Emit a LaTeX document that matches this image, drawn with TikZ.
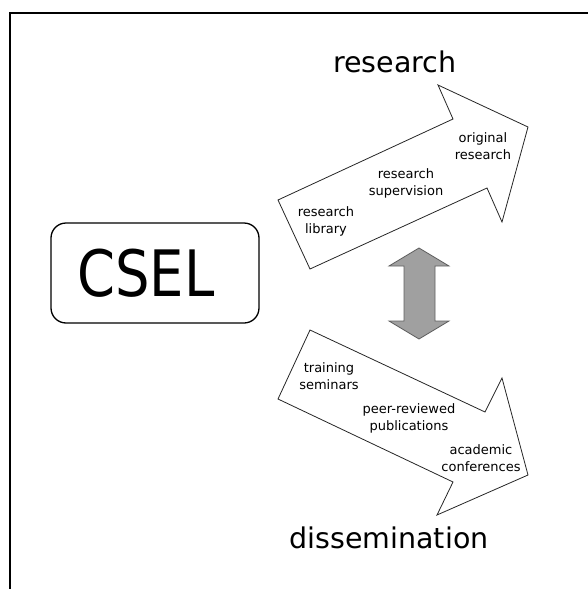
\documentclass[tikz,border=0pt]{standalone}
\usepackage{fontspec}
\setmainfont{DejaVu Sans}
\usepackage{graphicx}
\usepackage{tikz}
\usetikzlibrary{shapes}
\definecolor{arrowgray}{RGB}{160,160,160}
\definecolor{edgegray}{RGB}{95,95,95}

\begin{document}
\begin{tikzpicture}[x=1pt,y=-1pt]
    \tikzstyle{every node}+=[inner sep=0pt]
    \tikzstyle{title}=[font=\fontsize{28.5}{34}\selectfont, anchor=base]
    \tikzstyle{item}=[font=\fontsize{13}{17}\selectfont, align=center]
    \tikzstyle{flow}=[draw=black!85, line width=0.8pt, fill=white, line join=miter]
    \useasboundingbox (0,0) rectangle (588,589);
    \draw [black, line width=2.5pt] (588,13) -- (10,13) -- (10,589);
    \node [draw=black, line width=1.3pt, rounded corners=15pt, minimum width=208pt, minimum height=100pt,
        font=\fontsize{64}{70}\selectfont] (csel) at (155,273) {\hspace*{-18pt}\scalebox{0.85}[1]{CSEL}};
    \draw [flow] (278,200) -- (453,119) -- (438,85) -- (528,127) -- (502,222) -- (487,188) -- (310,269) -- cycle;
    \draw [flow] (310,330) -- (485,412) -- (502,378) -- (528,475) -- (437,515) -- (453,482) -- (278,399) -- cycle;
    \draw [edgegray, fill=arrowgray, line width=0.8pt] (419,248) -- (449,266) -- (435,266) -- (435,321) -- (449,321)
        -- (419,339) -- (389,321) -- (404,321) -- (404,266) -- (389,266) -- cycle;
    \node [title] (research) at (395,72) {research};
    \node [title] (dissemination) at (389,548) {dissemination};
    \node [item] (original) at (483,146) {original\\research};
    \node [item] (supervision) at (406,183) {research\\supervision};
    \node [item] (library) at (326,221) {research\\library};
    \node [item] (training) at (329,376) {training\\seminars};
    \node [item] (publications) at (409,418) {peer-reviewed\\publications};
    \node [item] (conferences) at (481,458) {academic\\conferences};
\end{tikzpicture}
\end{document}
